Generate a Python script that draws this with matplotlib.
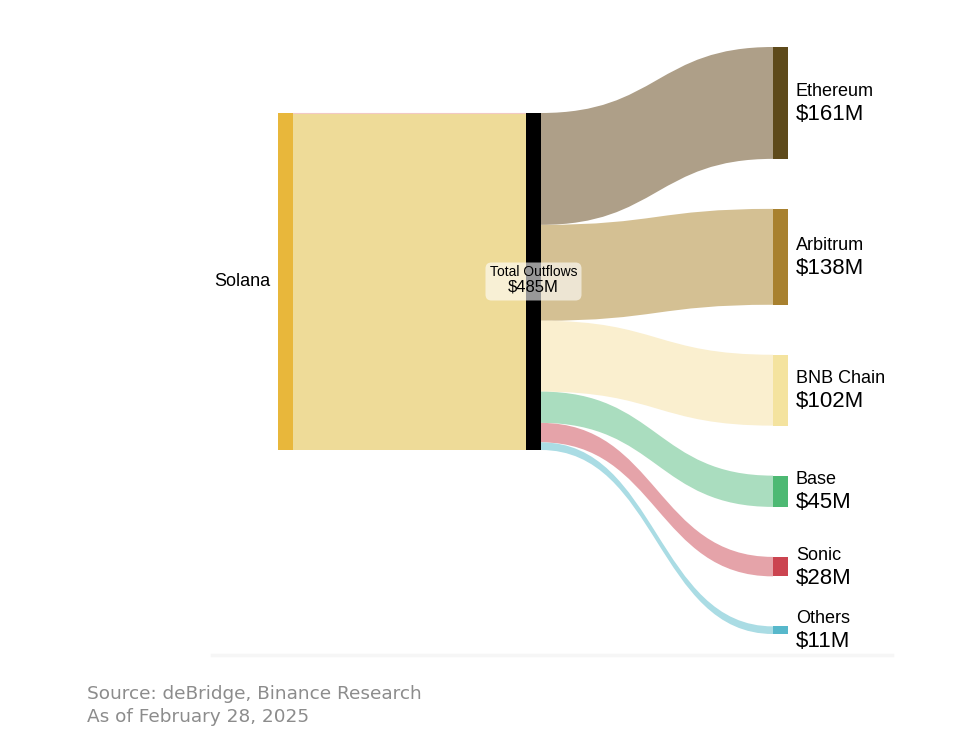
#!/usr/bin/env python3

"""Sankey of Solana bridge outflows by destination chain."""

import matplotlib.pyplot as plt
from matplotlib.patches import FancyBboxPatch, PathPatch, Rectangle
from matplotlib.path import Path

# Data ($M)
source = "Solana"
hub = "Total Outflows"
targets = ["Ethereum", "Arbitrum", "BNB Chain", "Base", "Sonic", "Others"]
values = [161, 138, 102, 45, 28, 11]
total = sum(values)

source_color = "#E8B73B"
source_link = "#EEDB98"
hub_color = "#000000"
node_colors = ["#5E4A1B", "#A8812F", "#F4E39F", "#4DB973", "#CB4450", "#57B8CB"]
link_colors = ["#AE9F88", "#D4C093", "#FAEFCF", "#AADDBF", "#E5A3A9", "#AADCE4"]

# Layout in pixels
W, H = 956, 753
scale = 337 / total  # px per $M
node_w = 15
x_src, x_hub, x_tgt = 278, 526, 773
src_top = 113
tgt_top = 47
gap = 50


def link(ax, x0, t0, b0, x1, t1, b1, color):
    xm = (x0 + x1) / 2.0
    verts = [(x0, t0), (xm, t0), (xm, t1), (x1, t1),
             (x1, b1), (xm, b1), (xm, b0), (x0, b0), (x0, t0)]
    codes = [Path.MOVETO, Path.CURVE4, Path.CURVE4, Path.CURVE4,
             Path.LINETO, Path.CURVE4, Path.CURVE4, Path.CURVE4, Path.CLOSEPOLY]
    ax.add_patch(PathPatch(Path(verts, codes), facecolor=color,
                           edgecolor="none", zorder=1))


def main():
    fig = plt.figure(figsize=(W / 100, H / 100), dpi=100)
    ax = fig.add_axes([0, 0, 1, 1])
    ax.set_xlim(0, W)
    ax.set_ylim(H, 0)
    ax.axis("off")

    h_total = total * scale

    # Source -> hub
    link(ax, x_src + node_w, src_top, src_top + h_total,
         x_hub, src_top, src_top + h_total, source_link)
    ax.plot([x_src + node_w, x_hub], [src_top, src_top], color="#F2C9C4",
            lw=0.8, zorder=2)
    ax.add_patch(Rectangle((x_src, src_top), node_w, h_total,
                           facecolor=source_color, zorder=3))

    # Hub -> targets
    y_hub = src_top
    y_tgt = tgt_top
    for name, v, nc, lc in zip(targets, values, node_colors, link_colors):
        h = v * scale
        link(ax, x_hub + node_w, y_hub, y_hub + h,
             x_tgt, y_tgt, y_tgt + h, lc)
        ax.add_patch(Rectangle((x_tgt, y_tgt), node_w, h,
                               facecolor=nc, zorder=3))
        cy = y_tgt + h / 2
        ax.text(x_tgt + node_w + 8, cy - 3, name, fontsize=13,
                family="Liberation Sans", ha="left", va="bottom")
        ax.text(x_tgt + node_w + 8, cy + 1, f"${v}M", fontsize=16,
                family="Liberation Sans", ha="left", va="top")
        y_hub += h
        y_tgt += h + gap

    ax.add_patch(Rectangle((x_hub, src_top), node_w, h_total,
                           facecolor=hub_color, zorder=3))

    # Labels
    ax.text(x_src - 8, src_top + h_total / 2, source, fontsize=13,
            family="Liberation Sans", ha="right", va="center")
    cx = x_hub + node_w / 2
    cy = src_top + h_total / 2
    ax.add_patch(FancyBboxPatch((cx - 48, cy - 19), 96, 38,
                                boxstyle="round,pad=0,rounding_size=6",
                                facecolor="white", alpha=0.6,
                                edgecolor="none", zorder=4))
    ax.text(cx, cy - 3, hub, fontsize=10, family="Liberation Sans",
            ha="center", va="bottom", zorder=5)
    ax.text(cx, cy - 2, f"${total}M", fontsize=12, family="Liberation Sans",
            ha="center", va="top", zorder=5)

    # Footer
    ax.plot([212, 892], [655, 655], color="#F6F6F6", lw=2.5, zorder=0)
    ax.text(87, 694, "Source: deBridge, Binance Research", fontsize=13.3,
            family="DejaVu Sans", color="#8C8C8C", ha="left", va="center")
    ax.text(87, 717, "As of February 28, 2025", fontsize=13.3,
            family="DejaVu Sans", color="#8C8C8C", ha="left", va="center")

    fig.savefig("out.png", dpi=100, facecolor="white")


if __name__ == "__main__":
    main()
